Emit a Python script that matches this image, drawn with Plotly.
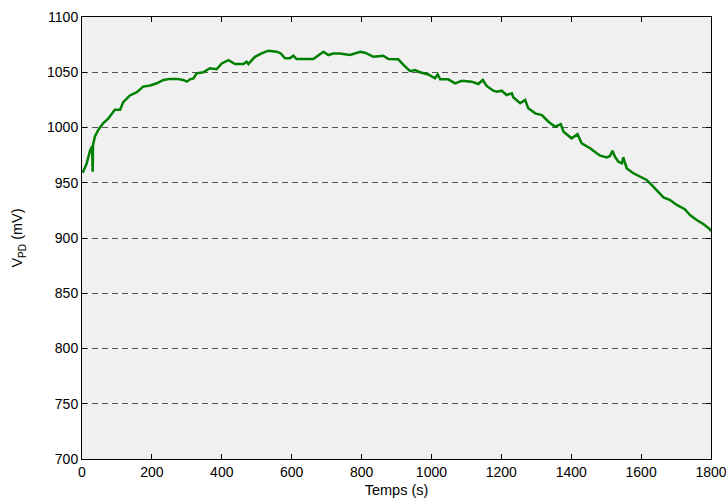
import plotly.graph_objects as go

# temps (s) et tension V_PD (mV)
temps = [2, 13, 23, 28, 29, 30.5, 31.5, 37, 47, 61, 75, 94, 109, 118, 137, 157, 175, 195, 214,
         233, 252, 271, 290, 300, 309, 319, 328, 347, 366, 385, 400, 419, 438, 462, 471, 476,
         495, 514, 533, 557, 569, 581, 595, 605, 614, 662, 676, 691, 705, 719, 738, 757, 767,
         796, 810, 834, 862, 877, 905, 920, 939, 953, 967, 991, 1010, 1018, 1025, 1048, 1068,
         1087, 1115, 1134, 1147, 1158, 1168, 1177, 1187, 1201, 1215, 1230, 1234, 1254, 1268,
         1277, 1297, 1316, 1335, 1354, 1370, 1378, 1401, 1418, 1430, 1454, 1473, 1483, 1502,
         1511, 1518, 1525, 1535, 1545, 1549, 1559, 1578, 1597, 1616, 1630, 1649, 1664, 1683,
         1702, 1725, 1740, 1759, 1778, 1797, 1800]
tension = [959, 967, 979, 983, 983, 960, 984, 992, 998, 1004, 1008, 1016, 1016, 1023, 1029,
           1032, 1037, 1038, 1040, 1043, 1044, 1044, 1043, 1041.5, 1043.6, 1044.5, 1049, 1050,
           1053.6, 1052.7, 1058, 1061, 1057.5, 1057.5, 1059.5, 1057.5, 1064, 1067, 1069.5,
           1068.6, 1067, 1062.6, 1062.6, 1065, 1062, 1062, 1065.6, 1068.6, 1065.6, 1067, 1067,
           1066.2, 1065.6, 1068.6, 1067.7, 1064, 1065, 1062, 1061.7, 1056.6, 1051, 1052, 1050,
           1048, 1044.5, 1048, 1043.6, 1043.6, 1040, 1042.3, 1041.5, 1039.4, 1043, 1037.6,
           1035.5, 1033.3, 1032.4, 1033.3, 1029.4, 1031, 1027.3, 1022, 1025, 1017.4, 1012.8,
           1011.3, 1005.2, 1000.7, 1003, 996.2, 990.2, 994, 985.7, 981.2, 976.7, 974.5, 973,
           974.2, 979, 973.6, 969, 967.6, 973, 963, 958.6, 955.5, 952.5, 948, 941.9, 936.8,
           934.4, 929.9, 926, 920.8, 916.3, 912.7, 907.9, 906]

x_ticks = [0, 200, 400, 600, 800, 1000, 1200, 1400, 1600, 1800]
y_ticks = [700, 750, 800, 850, 900, 950, 1000, 1050, 1100]

fig = go.Figure()
fig.add_trace(go.Scatter(x=temps, y=tension, mode='lines',
                         line=dict(color='#008000', width=2.5), showlegend=False,
                         cliponaxis=False))

axis_common = dict(showline=True, linecolor='black', linewidth=1, mirror='ticks',
                   ticks='inside', ticklen=5, tickcolor='black', zeroline=False,
                   automargin=False, ticklabeloverflow='allow',
                   tickfont=dict(size=14, color='black'))

fig.update_layout(
    width=726, height=503,
    margin=dict(l=82, r=15, t=17, b=44),
    paper_bgcolor='white', plot_bgcolor='#f0f0f0',
    hovermode=False,
    font=dict(family='Liberation Sans, Arial, sans-serif', color='black'),
    xaxis=dict(range=[0, 1800], tickvals=x_ticks, showgrid=False,
               title=dict(text='Temps (s)', font=dict(size=14.5), standoff=6),
               **axis_common),
    yaxis=dict(range=[700, 1100], tickvals=y_ticks, showgrid=True,
               gridcolor='#555555', gridwidth=1, griddash='6px,4px',
               title=dict(text='V<sub>PD</sub> (mV)', font=dict(size=14.5), standoff=20),
               **axis_common),
)

# drop the default 8px page margin so the figure fills the window, and hide the modebar
fig.write_html("out.html", config={'displayModeBar': False},
               post_script="document.body.style.margin='0';")
